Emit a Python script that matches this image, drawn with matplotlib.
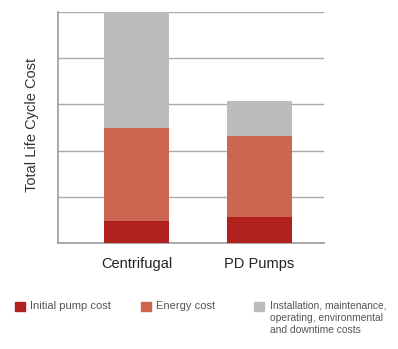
import matplotlib
matplotlib.use("Agg")
import matplotlib.pyplot as plt
from matplotlib.patches import Rectangle

plt.rcParams['font.family'] = ['Liberation Sans', 'DejaVu Sans']

categories = ["Centrifugal", "PD Pumps"]
initial_cost = [0.48, 0.57]
energy_cost = [2.02, 1.75]
other_cost = [2.50, 0.76]
series_labels = ["Initial pump cost", "Energy cost",
                 "Installation, maintenance,\noperating, environmental\nand downtime costs"]
colors = ["#B0211D", "#CD6650", "#BDBCBC"]

fig = plt.figure(figsize=(3.98, 3.49), dpi=100)
ax = fig.add_axes([58/398, 1-243/349, (324-58)/398, (243-12)/349])

x = list(range(len(categories)))
w = 0.53
b1 = initial_cost
b2 = [a + b for a, b in zip(initial_cost, energy_cost)]
ax.bar(x, initial_cost, width=w, color=colors[0], zorder=3)
ax.bar(x, energy_cost, width=w, bottom=b1, color=colors[1], zorder=3)
ax.bar(x, other_cost, width=w, bottom=b2, color=colors[2], zorder=3)

ax.set_xlim(-0.64, 1.53)
ax.set_ylim(0, 5)
ax.set_yticks([1, 2, 3, 4, 5])
ax.set_yticklabels([])
ax.tick_params(axis='y', length=0)
ax.tick_params(axis='x', length=0, pad=10, labelsize=10.5, labelcolor="#222222")
ax.set_xticks(x)
ax.set_xticklabels(categories)
ax.grid(axis='y', color="#ABABAB", linewidth=1, zorder=0)
for s in ['top', 'right']:
    ax.spines[s].set_visible(False)
for s in ['left', 'bottom']:
    ax.spines[s].set_color("#999999")
    ax.spines[s].set_linewidth(1.2)
fig.text(32/398, 1-125/349, "Total Life Cycle Cost", fontsize=10.5, color="#333333",
         rotation=90, ha='center', va='center')

# legend
leg_sq = [15, 141, 254]
leg_tx = [30, 156, 270]
leg_fs = [8, 8, 7.4]
for sx, tx, fs, c, lab in zip(leg_sq, leg_tx, leg_fs, colors, series_labels):
    fig.patches.append(Rectangle((sx/398, 1-311/349), 9.5/398, 9/349,
                                 transform=fig.transFigure, color=c))
    fig.text(tx/398, 1-309/349, lab.split("\n")[0], fontsize=fs, color="#555555",
             va='baseline', ha='left')
    for i, line in enumerate(lab.split("\n")[1:], start=1):
        fig.text(tx/398, 1-(309+12*i)/349, line, fontsize=fs, color="#555555",
                 va='baseline', ha='left')

fig.savefig("out.png", dpi=100)
